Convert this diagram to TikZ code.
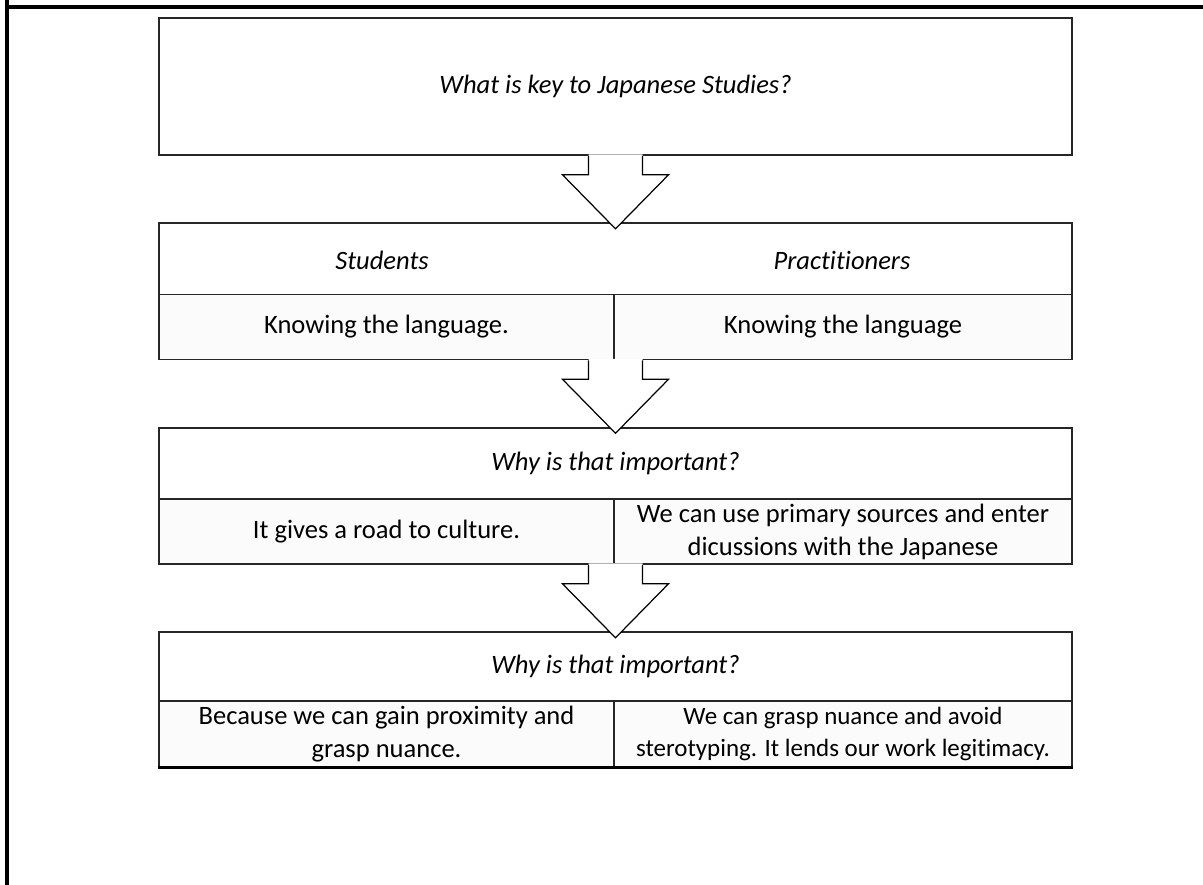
\documentclass[tikz,border=0pt]{standalone}
\usepackage{fontspec}
\setmainfont{Carlito}[Ligatures=NoCommon]
\usetikzlibrary{positioning}

\tikzset{
  cell/.style={draw=black!85, line width=0.9pt, fill=white, inner sep=0pt,
    align=center, font=\fontsize{15.1}{18.8}\selectfont},
  headcell/.style={cell, minimum width=18.26cm, font=\fontsize{15.1}{18.8}\selectfont\itshape},
  halfcell/.style={cell, fill=black!1.5, minimum height=1.3cm},
  label/.style={inner sep=0pt, font=\fontsize{15.1}{18.8}\selectfont\itshape},
  blockarrow/.style={draw=black, line width=0.7pt, line join=miter}
}

% block arrow hanging below a node
\newcommand{\flowarrow}[1]{%
  \fill[white] ([shift={(-0.54,0.03)}]#1.south) -- ([shift={(-0.54,-0.38)}]#1.south)
    -- ([shift={(-1.06,-0.38)}]#1.south) -- ([yshift=-1.46cm]#1.south)
    -- ([shift={(1.06,-0.38)}]#1.south) -- ([shift={(0.54,-0.38)}]#1.south)
    -- ([shift={(0.54,0.03)}]#1.south) -- cycle;
  \draw[blockarrow] ([xshift=-0.54cm]#1.south) -- ([shift={(-0.54,-0.38)}]#1.south)
    -- ([shift={(-1.06,-0.38)}]#1.south) -- ([yshift=-1.46cm]#1.south)
    -- ([shift={(1.06,-0.38)}]#1.south) -- ([shift={(0.54,-0.38)}]#1.south)
    -- ([xshift=0.54cm]#1.south);}

\begin{document}
\begin{tikzpicture}
\useasboundingbox (0,0) rectangle (24.06,-17.7);

% frame
\draw[line width=2pt] (0.14,0) -- (0.14,-17.7);
\draw[line width=2pt] (0.14,-0.14) -- (24.06,-0.14);

% Nodes
\node[headcell, minimum height=2.74cm] (key) at (12.31,-1.73) {What is key to Japanese Studies?};

\node[headcell, minimum height=1.44cm] (groups) at (12.31,-5.18) {};
\node[label] (students) at (7.64,-5.2) {Students};
\node[label] (practitioners) at (16.84,-5.2) {Practitioners};
\node[halfcell, minimum width=9.1cm] (lang1) at (7.73,-6.54) {Knowing the language.};
\node[halfcell, minimum width=9.16cm] (lang2) at (16.86,-6.54) {Knowing the language};

\node[headcell, minimum height=1.42cm] (why1) at (12.31,-9.27) {Why is that important?};
\node[halfcell, minimum width=9.1cm] (culture) at (7.73,-10.63) {It gives a road to culture.};
\node[halfcell, minimum width=9.16cm] (sources) at (16.86,-10.63) {We can use primary sources and enter\\dicussions with the Japanese};

\node[headcell, minimum height=1.38cm] (why2) at (12.31,-13.33) {Why is that important?};
\node[halfcell, minimum width=9.1cm, minimum height=1.32cm] (proximity) at (7.73,-14.68) {Because we can gain proximity and\\grasp nuance.};
\node[halfcell, minimum width=9.16cm, minimum height=1.32cm,
  font=\fontsize{14.2}{18.4}\selectfont] (nuance) at (16.86,-14.68) {We can grasp nuance and avoid\\sterotyping. It lends our work legitimacy.};
\draw[line width=1.6pt] (proximity.south west) -- (nuance.south east);

% Arrows
\flowarrow{key}
\coordinate (row2) at (lang1.south -| key.south);
\flowarrow{row2}
\coordinate (row3) at (culture.south -| key.south);
\flowarrow{row3}
\end{tikzpicture}
\end{document}
